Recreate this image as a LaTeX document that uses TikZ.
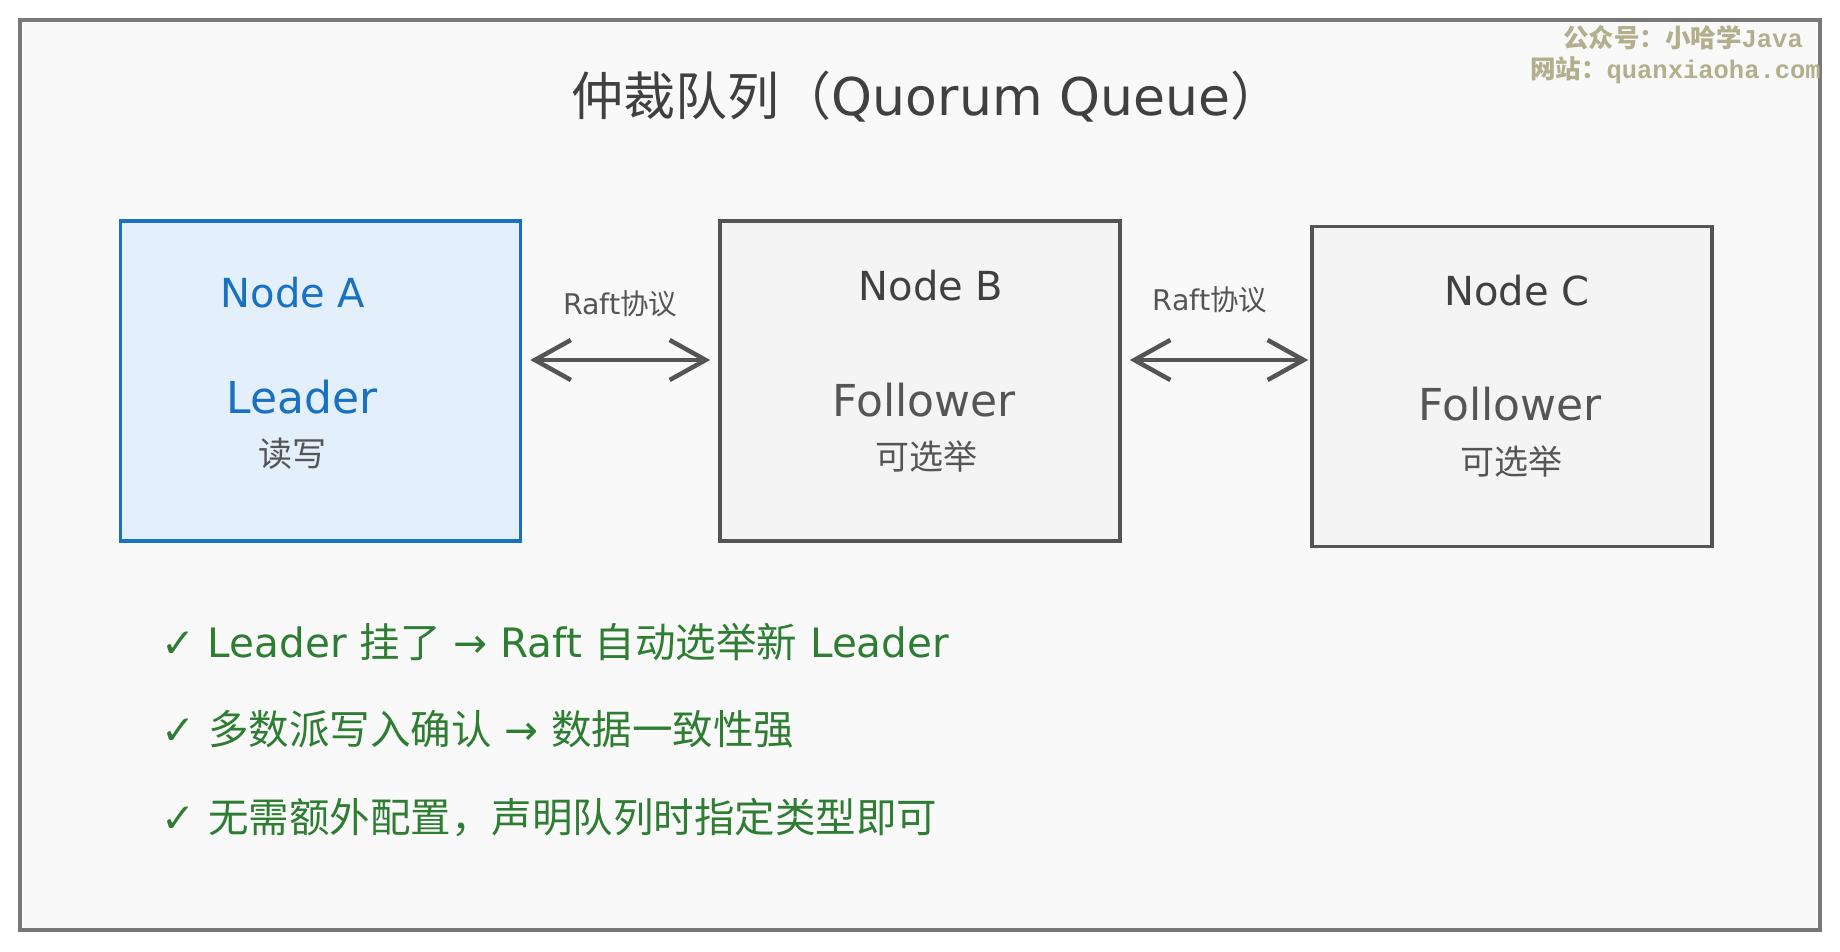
\documentclass[tikz,border=0pt]{standalone}
\usepackage{fontspec}
\setmainfont{DejaVu Sans}
\newfontfamily\cjk{Noto Sans CJK SC}
\newfontfamily\wmmono{Liberation Mono}
\usepackage{xcolor}
\definecolor{framegray}{RGB}{119,119,119}
\definecolor{paper}{RGB}{249,249,249}
\definecolor{leaderblue}{RGB}{25,113,194}
\definecolor{leaderfill}{RGB}{227,240,252}
\definecolor{followerfill}{RGB}{244,244,244}
\definecolor{inkgray}{RGB}{85,85,85}
\definecolor{textgray}{RGB}{64,64,64}
\definecolor{okgreen}{RGB}{46,125,50}
\definecolor{markolive}{RGB}{178,176,140}
\usetikzlibrary{arrows.meta}
\newcommand{\zh}[1]{{\cjk #1}}
\newcommand{\pxfont}[1]{\fontsize{#1}{#1}\selectfont}
\newcommand{\boxwidth}{400pt}
\newcommand{\boxheight}{320pt}
\tikzset{
    common/.style={draw, rectangle, line width=3.5pt, minimum width=\boxwidth, minimum height=\boxheight},
    leader/.style={common, draw=leaderblue, fill=leaderfill},
    follower/.style={common, draw=inkgray, fill=followerfill},
    nodename/.style={font=\pxfont{40}, inner sep=0pt},
    role/.style={font=\pxfont{44}, inner sep=0pt},
    duty/.style={font=\pxfont{34}\cjk, text=inkgray, inner sep=0pt},
    link/.style={{Straight Barb[length=36pt,width=40pt]}-{Straight Barb[length=36pt,width=40pt]},
        line width=4.5pt, draw=inkgray},
    linklabel/.style={font=\pxfont{28.5}, text=inkgray, inner sep=0pt},
    heading/.style={font=\pxfont{52}, text=textgray, inner sep=0pt},
    point/.style={anchor=west, font=\pxfont{40.5}, text=okgreen, inner sep=0pt},
    watermark/.style={anchor=east, font=\pxfont{25.5}\bfseries, text=markolive, inner sep=0pt}
}
\begin{document}
\begin{tikzpicture}[x=1pt, y=-1pt]
            \fill[white] (0,0) rectangle (1840,951);
            \useasboundingbox (0,0) rectangle (1840,951);
            \draw[draw=framegray, line width=4pt, fill=paper] (20,20) rectangle (1820,930);

            \node[heading] (title) at (927,97) {\zh{仲裁队列（}Quorum Queue\zh{）}};

            \path
                (320.5,381) node[leader] (nodeA) {}
                ++(599.5,0) node[follower] (nodeB) {}
                ++(592,5.5) node[follower] (nodeC) {};

            \node[nodename, text=leaderblue] (nameA) at (293,293) {Node A};
            \node[role, text=leaderblue] (roleA) at (302,397) {Leader};
            \node[duty] (dutyA) at (292,454) {读写};

            \node[nodename, text=textgray] (nameB) at (931,286) {Node B};
            \node[role, text=inkgray] (roleB) at (924,400) {Follower};
            \node[duty] (dutyB) at (926,456) {可选举};

            \node[nodename, text=textgray] (nameC) at (1517,291) {Node C};
            \node[role, text=inkgray] (roleC) at (1510,404) {Follower};
            \node[duty] (dutyC) at (1511,461) {可选举};

            \draw[link, shorten <=8pt, shorten >=8pt] ([yshift=21pt]nodeA.east)
                -- node[linklabel, yshift=56pt] (raftAB) {Raft\zh{协议}} ([yshift=21pt]nodeB.west);
            \draw[link, shorten <=8pt, shorten >=2pt] ([yshift=21pt]nodeB.east)
                -- node[linklabel, yshift=60pt, xshift=-6pt] (raftBC) {Raft\zh{协议}} ([yshift=26.5pt]nodeC.west);

            \node[point] (pointA) at (161,642) {✓ Leader \zh{挂了} → Raft \zh{自动选举新} Leader};
            \node[point] (pointB) at (161,729) {✓ \zh{多数派写入确认} → \zh{数据一致性强}};
            \node[point] (pointC) at (161,818) {✓ \zh{无需额外配置，声明队列时指定类型即可}};

            \node[watermark] (wmline1) at (1803,38) {\zh{公众号：小哈学}\wmmono Java};
            \node[watermark] (wmline2) at (1821,70) {\zh{网站：}\wmmono quanxiaoha.com};
        \end{tikzpicture}
\end{document}
